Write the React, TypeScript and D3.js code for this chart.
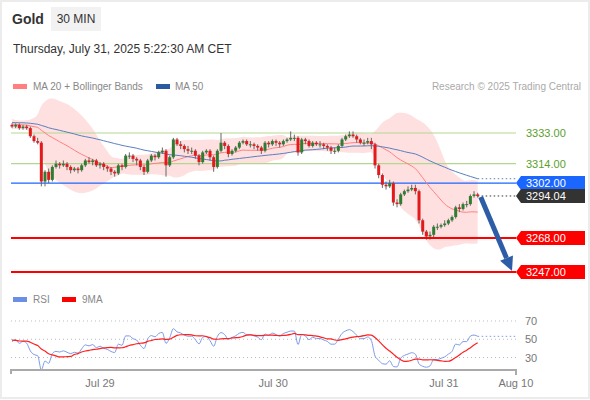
import React from 'react';
import * as d3 from 'd3';

// ---- data ----
const priorCloses = [
  3336, 3338, 3341, 3339, 3342, 3340, 3343, 3341, 3339, 3342,
  3344, 3341, 3338, 3340, 3342, 3339, 3337, 3340, 3343, 3341,
  3339, 3336, 3338, 3341, 3340, 3342, 3339, 3337, 3340, 3338,
  3341, 3343, 3340, 3338, 3339, 3341, 3338, 3336, 3339, 3340,
  3338, 3337, 3339, 3340, 3338, 3336, 3338, 3339, 3337, 3338,
];
const firstOpen = 3338;
const closes = [
  3337, 3338, 3336, 3337, 3336, 3331, 3328, 3327, 3303, 3309,
  3304, 3312, 3314, 3313, 3314, 3312, 3310, 3311, 3310, 3313,
  3316, 3315, 3316, 3313, 3314, 3312, 3311, 3309, 3308, 3313,
  3312, 3319, 3319, 3317, 3316, 3312, 3309, 3316, 3319, 3318,
  3321, 3322, 3313, 3318, 3329, 3326, 3325, 3323, 3322, 3322,
  3319, 3315, 3321, 3322, 3318, 3312, 3322, 3327, 3325, 3320,
  3322, 3324, 3327, 3328, 3326, 3326, 3325, 3324, 3322, 3327,
  3326, 3328, 3327, 3326, 3328, 3329, 3330, 3330, 3321, 3329,
  3328, 3325, 3327, 3326, 3326, 3325, 3324, 3322, 3322, 3325,
  3329, 3331, 3332, 3331, 3329, 3327, 3327, 3328, 3326, 3313,
  3307, 3301, 3300, 3302, 3290, 3289, 3295, 3297, 3298, 3299,
  3297, 3279, 3272, 3269, 3270, 3275, 3275, 3276, 3277, 3279,
  3281, 3287, 3286, 3289, 3289, 3294, 3295, 3294,
];
const highs = [
  3339, 3339, 3339, 3338, 3338, 3337, 3332, 3330, 3328, 3310,
  3311, 3313, 3316, 3315, 3316, 3315, 3313, 3312, 3312, 3314,
  3317, 3318, 3317, 3317, 3315, 3315, 3313, 3312, 3310, 3314,
  3314, 3320, 3321, 3320, 3318, 3317, 3313, 3317, 3320, 3320,
  3322, 3324, 3323, 3319, 3330, 3330, 3328, 3326, 3325, 3324,
  3323, 3320, 3322, 3323, 3323, 3319, 3323, 3333, 3328, 3326,
  3323, 3325, 3328, 3329, 3329, 3328, 3327, 3326, 3325, 3328,
  3328, 3329, 3329, 3328, 3329, 3330, 3334, 3332, 3331, 3330,
  3330, 3329, 3328, 3328, 3328, 3327, 3326, 3325, 3324, 3326,
  3330, 3332, 3334, 3334, 3332, 3330, 3329, 3330, 3330, 3327,
  3314, 3308, 3303, 3304, 3303, 3292, 3296, 3298, 3300, 3301,
  3301, 3298, 3280, 3273, 3272, 3276, 3277, 3277, 3279, 3280,
  3282, 3288, 3289, 3290, 3291, 3295, 3297, 3296,
];
const lows = [
  3336, 3336, 3335, 3335, 3335, 3330, 3327, 3326, 3300, 3300,
  3302, 3303, 3311, 3311, 3312, 3310, 3308, 3309, 3308, 3309,
  3312, 3314, 3313, 3312, 3311, 3310, 3309, 3307, 3306, 3307,
  3310, 3311, 3317, 3315, 3313, 3310, 3307, 3308, 3315, 3316,
  3317, 3320, 3306, 3312, 3317, 3325, 3323, 3321, 3320, 3320,
  3317, 3313, 3314, 3320, 3316, 3309, 3311, 3321, 3323, 3318,
  3319, 3321, 3323, 3326, 3325, 3324, 3323, 3322, 3320, 3321,
  3324, 3325, 3325, 3324, 3325, 3327, 3328, 3328, 3319, 3320,
  3326, 3324, 3324, 3325, 3324, 3323, 3322, 3320, 3320, 3321,
  3324, 3328, 3330, 3330, 3327, 3326, 3325, 3326, 3323, 3311,
  3305, 3299, 3298, 3299, 3288, 3287, 3288, 3294, 3296, 3297,
  3295, 3277, 3270, 3267, 3267, 3268, 3273, 3274, 3275, 3276,
  3278, 3280, 3284, 3285, 3287, 3288, 3293, 3293,
];
const resistanceLevels = [3333, 3314];
const pivotLevel = 3302;
const lastPrice = 3294.04;
const supportLevels = [3268, 3247];
const rsiLevels = [70, 50, 30];
const xTickLabels = ['Jul 29', 'Jul 30', 'Jul 31', 'Aug 10'];
const xTickIndex = [24, 71.2, 117.8, 137.4];

// ---- indicators ----
const all = priorCloses.concat(closes);
const off = priorCloses.length;
const sma = (arr: number[], n: number, k: number) => d3.mean(arr.slice(k - n + 1, k + 1)) as number;
const ma20 = closes.map((_, i) => sma(all, 20, off + i));
const ma50 = closes.map((_, i) => sma(all, 50, off + i));
const bbUp = closes.map((_, i) => {
  const w = all.slice(off + i - 19, off + i + 1);
  const m = d3.mean(w) as number;
  const sd = Math.sqrt(d3.mean(w, (v) => (v - m) * (v - m)) as number);
  return m + 2 * sd;
});
const bbLo = closes.map((_, i) => 2 * ma20[i] - bbUp[i]);

const rsiAll: number[] = new Array(all.length).fill(NaN);
{
  let g = 0, l = 0;
  for (let k = 1; k <= 14; k++) {
    const ch = all[k] - all[k - 1];
    if (ch > 0) g += ch; else l -= ch;
  }
  g /= 14; l /= 14;
  rsiAll[14] = 100 - 100 / (1 + g / l);
  for (let k = 15; k < all.length; k++) {
    const ch = all[k] - all[k - 1];
    g = (g * 13 + Math.max(ch, 0)) / 14;
    l = (l * 13 + Math.max(-ch, 0)) / 14;
    rsiAll[k] = 100 - 100 / (1 + g / l);
  }
}
const rsi = closes.map((_, i) => rsiAll[off + i]);
const rsiMa = closes.map((_, i) => sma(rsiAll, 9, off + i));

// ---- layout ----
const W = 590, H = 400;
const FONT = 'Liberation Sans, Arial, Helvetica, sans-serif';
const x = d3.scaleLinear().domain([0, closes.length - 1]).range([12, 477.7]);
const y = d3.scaleLinear().domain([3247, 3333]).range([272, 133]);
const yr = d3.scaleLinear().domain([30, 70]).range([357.5, 321]);
const LX0 = 11, LX1 = 516;

const GREEN = '#2e7d32', RED = '#e3191b';

function tagPath(cy: number) {
  return `M${LX1},${cy} L${LX1 + 5},${cy - 7} L585,${cy - 7} L585,${cy + 7} L${LX1 + 5},${cy + 7} Z`;
}

export default function App() {
  const idx = d3.range(closes.length);
  const band = d3.area<number>().x((i) => x(i)).y0((i) => y(bbLo[i])).y1((i) => y(bbUp[i])).curve(d3.curveBasis);
  const line = (arr: number[], sc: (v: number) => number) =>
    d3.line<number>().x((i) => x(i)).y((i) => sc(arr[i])).curve(d3.curveMonotoneX)(idx) as string;

  const lastX = x(closes.length - 1);
  const tip = { x: 512, y: y(3247) - 1 };
  const start = { x: lastX + 3, y: y(lastPrice) + 1 };
  const dx = tip.x - start.x, dy = tip.y - start.y;
  const len = Math.hypot(dx, dy);
  const ux = dx / len, uy = dy / len;
  const base = { x: tip.x - 14 * ux, y: tip.y - 14 * uy };
  const px = -uy * 7, py = ux * 7;

  return (
    <svg width={W} height={H} style={{ position: 'absolute', left: 0, top: 0, background: '#fff' }} fontFamily={FONT}>
      <rect x={1} y={1} width={W - 2} height={H - 3} fill="#fff" stroke="#ececec" strokeWidth={2} />
      {/* header */}
      <text x={12} y={24} fontSize={14} fontWeight="bold" fill="#333">Gold</text>
      <rect x={51} y={7} width={50} height={24} fill="#f2f2f2" />
      <text x={76} y={23} fontSize={12} fill="#333" textAnchor="middle">30 MIN</text>
      <text x={13} y={53} fontSize={12} fill="#333">Thursday, July 31, 2025 5:22:30 AM CET</text>

      {/* legend */}
      <rect x={13} y={84} width={14} height={5} fill="#ff7f7f" />
      <text x={33} y={90} fontSize={10} fill="#888">MA 20 + Bollinger Bands</text>
      <rect x={156} y={84} width={14} height={5} fill="#2c5aa0" />
      <text x={175} y={90} fontSize={10} fill="#888">MA 50</text>
      <text x={581} y={90} fontSize={10} fill="#aaa" textAnchor="end">Research © 2025 Trading Central</text>

      {/* bollinger band */}
      <path d={band(idx) as string} fill="#ffe0e0" />

      {/* resistance lines */}
      {resistanceLevels.map((v) => (
        <g key={v}>
          <line x1={LX0} x2={LX1} y1={y(v)} y2={y(v)} stroke="#b3d78f" strokeWidth={1.2} />
          <text x={526} y={y(v) + 4} fontSize={11} fill="#5aa02c">{v.toFixed(2)}</text>
        </g>
      ))}
      <line x1={LX0} x2={LX1} y1={y(pivotLevel)} y2={y(pivotLevel)} stroke="#1a66ff" strokeWidth={1.2} />

      {/* moving averages */}
      <path d={line(ma20, y)} fill="none" stroke="#ff8080" strokeWidth={1} />
      <path d={line(ma50, y)} fill="none" stroke="#5b7fbf" strokeWidth={1} />
      <line x1={lastX} x2={LX1} y1={y(ma50[ma50.length - 1])} y2={y(ma50[ma50.length - 1])} stroke="#5b7fbf" strokeDasharray="1.5,2.5" />
      <line x1={lastX} x2={LX1} y1={y(lastPrice)} y2={y(lastPrice)} stroke="#333" strokeDasharray="1.5,2.5" />

      {/* candles */}
      {closes.map((c, i) => {
        const o = i === 0 ? firstOpen : closes[i - 1];
        const up = c >= o;
        const col = up ? GREEN : RED;
        const top = y(Math.max(o, c)), bot = y(Math.min(o, c));
        return (
          <g key={i}>
            <line x1={x(i)} x2={x(i)} y1={y(highs[i])} y2={y(lows[i])} stroke="#666" strokeWidth={1} />
            <rect x={x(i) - 1.5} y={top} width={3} height={Math.max(1, bot - top)} fill={col} />
          </g>
        );
      })}

      {/* support lines */}
      {supportLevels.map((v) => (
        <line key={v} x1={LX0} x2={LX1} y1={y(v)} y2={y(v)} stroke="#ff0000" strokeWidth={2} />
      ))}

      {/* arrow */}
      <line x1={start.x} y1={start.y} x2={base.x} y2={base.y} stroke="#2d5da6" strokeWidth={5} />
      <path d={`M${base.x + px},${base.y + py} L${base.x - px},${base.y - py} L${tip.x},${tip.y} Z`} fill="#2d5da6" />

      {/* tags */}
      <path d={tagPath(y(pivotLevel))} fill="#1a66ff" />
      <text x={526} y={y(pivotLevel) + 4} fontSize={11} fill="#fff">{pivotLevel.toFixed(2)}</text>
      <path d={tagPath(y(lastPrice))} fill="#333" />
      <text x={526} y={y(lastPrice) + 4} fontSize={11} fill="#fff">{lastPrice.toFixed(2)}</text>
      {supportLevels.map((v) => (
        <g key={v}>
          <path d={tagPath(y(v))} fill="#ff0000" />
          <text x={526} y={y(v) + 4} fontSize={11} fill="#fff">{v.toFixed(2)}</text>
        </g>
      ))}

      {/* RSI panel */}
      <rect x={13} y={297} width={14} height={5} fill="#6b8ee6" />
      <text x={33} y={303} fontSize={10} fill="#888">RSI</text>
      <rect x={62} y={297} width={14} height={5} fill="#ff0000" />
      <text x={82} y={303} fontSize={10} fill="#888">9MA</text>
      {rsiLevels.map((v) => (
        <g key={v}>
          <line x1={LX0} x2={LX1} y1={yr(v)} y2={yr(v)} stroke="#bbb" strokeDasharray="1,3" />
          <text x={525} y={yr(v) + 4} fontSize={11} fill="#777">{v}</text>
        </g>
      ))}
      <path d={line(rsi, yr)} fill="none" stroke="#7b9be8" strokeWidth={1} />
      <path d={line(rsiMa, yr)} fill="none" stroke="#ff2020" strokeWidth={1.2} />
      <line x1={lastX} x2={LX1} y1={yr(rsi[rsi.length - 1])} y2={yr(rsi[rsi.length - 1])} stroke="#7b9be8" strokeDasharray="1.5,2.5" />

      {/* x axis */}
      <path d={`M${LX0},374 L${LX0},370 L${LX1},370 L${LX1},375`} fill="none" stroke="#aaa" strokeWidth={2} />
      {xTickLabels.map((t, k) => (
        <text key={t} x={x(xTickIndex[k])} y={387} fontSize={11} fill="#777" textAnchor="middle">{t}</text>
      ))}
    </svg>
  );
}
